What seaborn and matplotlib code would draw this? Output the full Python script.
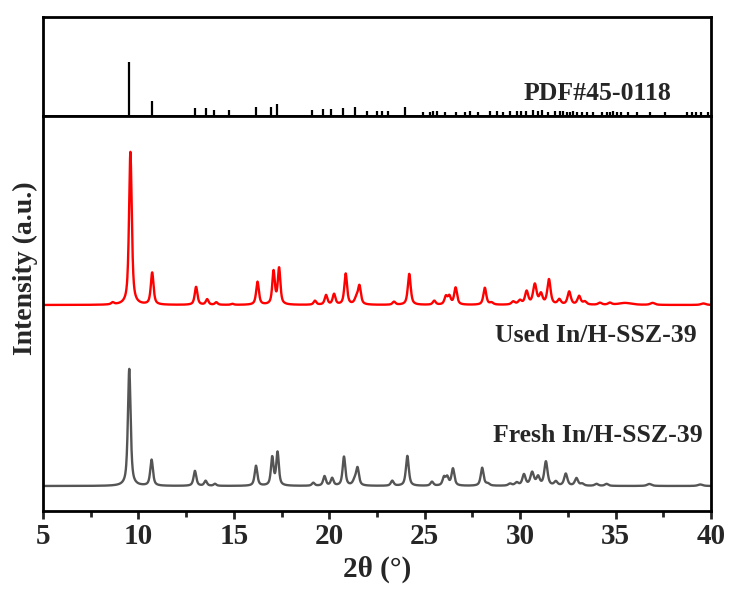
import numpy as np
import pandas as pd
import matplotlib
matplotlib.use("Agg")
import matplotlib.pyplot as plt
import seaborn as sns
from matplotlib.ticker import MultipleLocator

# ---------------- data ----------------
# Reference pattern PDF#45-0118: 2theta (deg) and relative intensity (%)
pdf_pos = [9.52, 10.69, 12.96, 13.52, 13.96, 14.76, 16.14, 16.92, 17.24, 19.11,
           19.65, 20.09, 20.70, 21.36, 22.00, 22.48, 22.74, 23.09, 23.96, 24.89,
           25.27, 25.44, 25.62, 26.06, 26.63, 27.10, 27.37, 27.79, 28.41, 28.77,
           29.11, 29.46, 29.81, 30.07, 30.33, 30.68, 30.94, 31.12, 31.48, 31.82,
           32.08, 32.26, 32.43, 32.61, 32.78, 32.96, 33.22, 33.48, 33.83, 34.27,
           34.53, 34.71, 34.88, 35.05, 35.31, 35.66, 36.10, 36.80, 37.58, 38.72,
           38.98, 39.24, 39.50, 39.85]
pdf_int = [100, 28, 15, 15, 11, 11, 17, 17, 22, 11,
           13, 13, 15, 17, 9, 9, 9, 9, 17, 7,
           7, 9, 9, 7, 7, 7, 9, 7, 9, 9,
           7, 9, 9, 9, 9, 11, 9, 11, 7, 9,
           9, 9, 7, 7, 9, 7, 7, 7, 7, 7,
           7, 7, 9, 7, 7, 7, 7, 7, 7, 7,
           7, 7, 7, 7]

# Used In/H-SSZ-39: peak positions (deg), heights (a.u.), widths (deg FWHM)
used_pos = [8.65, 9.58, 10.72, 13.02, 13.60, 14.08, 14.92, 16.24, 17.08, 17.37,
            19.25, 19.83, 20.25, 20.86, 21.42, 21.58, 23.39, 24.19, 25.50, 26.11,
            26.29, 26.62, 28.15, 28.50, 29.64, 29.99, 30.34, 30.77, 31.09, 31.51,
            32.05, 32.57, 33.09, 33.39, 34.18, 34.70, 35.50, 36.94, 39.60]
used_h = [2, 153, 32, 18, 5.5, 2.5, 1, 23, 33, 36,
          4, 9.5, 10.5, 31, 6, 18, 3, 31, 4, 8,
          8, 17, 17, 2, 3, 4, 13, 20, 10, 25,
          5, 13, 8.5, 3, 2, 2, 2, 2, 1.5]
used_w = [0.18, 0.17, 0.17, 0.17, 0.17, 0.17, 0.17, 0.17, 0.16, 0.16,
          0.17, 0.17, 0.17, 0.17, 0.22, 0.18, 0.18, 0.18, 0.18, 0.18,
          0.18, 0.18, 0.18, 0.22, 0.22, 0.22, 0.2, 0.22, 0.2, 0.2,
          0.2, 0.2, 0.2, 0.22, 0.22, 0.22, 0.8, 0.28, 0.3]

# Fresh In/H-SSZ-39
fresh_pos = [9.52, 10.69, 12.96, 13.52, 14.01, 16.16, 17.01, 17.29, 19.16, 19.75,
             20.15, 20.77, 21.33, 21.48, 23.30, 24.09, 25.38, 26.01, 26.18, 26.48,
             28.01, 28.30, 29.47, 29.82, 30.20, 30.63, 30.94, 31.35, 31.87, 32.39,
             32.95, 33.25, 34.00, 34.53, 36.77, 39.44]
fresh_h = [117, 26, 15, 5, 2, 20, 28, 33, 3, 9.5,
           7.5, 29, 5, 17, 5, 30, 4, 8, 8, 17,
           18, 2, 2, 3, 11, 13, 8.5, 24, 4, 12,
           7.5, 2, 2, 2, 2, 1.5]
fresh_w = [0.17, 0.17, 0.17, 0.17, 0.17, 0.17, 0.16, 0.16, 0.17, 0.17,
           0.17, 0.17, 0.22, 0.18, 0.18, 0.18, 0.18, 0.18, 0.18, 0.18,
           0.18, 0.22, 0.22, 0.22, 0.2, 0.22, 0.2, 0.2, 0.2, 0.2,
           0.2, 0.22, 0.22, 0.22, 0.28, 0.3]

labels = ["PDF#45-0118", "Used In/H-SSZ-39", "Fresh In/H-SSZ-39"]
x_ticks = [5, 10, 15, 20, 25, 30, 35, 40]

# vertical offsets for stacking (layout)
used_offset = 206
fresh_offset = 25


def profile(tt, pos, h, w, eta=0.7):
    y = np.zeros_like(tt)
    for p, a, f in zip(pos, h, w):
        g = np.exp(-4 * np.log(2) * ((tt - p) / f) ** 2)
        l = 1.0 / (1.0 + 4 * ((tt - p) / f) ** 2)
        y += a * (eta * l + (1 - eta) * g)
    return y


tt = np.arange(5.0, 40.0001, 0.01)
df = pd.concat([
    pd.DataFrame({"tt": tt, "I": profile(tt, used_pos, used_h, used_w) + used_offset,
                  "sample": labels[1]}),
    pd.DataFrame({"tt": tt, "I": profile(tt, fresh_pos, fresh_h, fresh_w) + fresh_offset,
                  "sample": labels[2]}),
])

# ---------------- figure ----------------
sns.set_theme(style="white")
plt.rcParams["font.family"] = ["Liberation Serif", "DejaVu Serif"]
plt.rcParams["font.weight"] = "bold"
plt.rcParams["axes.linewidth"] = 2.0

fig = plt.figure(figsize=(7.29, 5.94), dpi=100)
L, R = 43 / 729, 711 / 729
ax_top = fig.add_axes([L, 1 - 116 / 594, R - L, 99 / 594])
ax = fig.add_axes([L, 1 - 511 / 594, R - L, 395 / 594])

# stick pattern
ax_top.vlines(pdf_pos, 0, pdf_int, colors="black", linewidth=1.6)
ax_top.set_xlim(5, 40)
ax_top.set_ylim(0, 183)
ax_top.set_xticks([])
ax_top.set_yticks([])
ax_top.text(37.95, 42.5, labels[0], ha="right", va="center",
            fontsize=18.5, fontweight="bold")

# measured patterns
sns.lineplot(data=df, x="tt", y="I", hue="sample",
             palette={labels[1]: "#ff0000", labels[2]: "#555555"},
             linewidth=1.7, legend=False, ax=ax, estimator=None, sort=False)
ax.set_xlim(5, 40)
ax.set_ylim(0, 395)
ax.set_yticks([])
ax.xaxis.set_major_locator(MultipleLocator(5))
ax.xaxis.set_minor_locator(MultipleLocator(2.5))
ax.set_xticks(x_ticks)
ax.set_xticklabels([str(t) for t in x_ticks])
ax.tick_params(axis="x", which="major", direction="out", length=6, width=2,
               labelsize=21, pad=3, bottom=True)
ax.tick_params(axis="x", which="minor", direction="out", length=4, width=2,
               bottom=True)
for lab in ax.get_xticklabels():
    lab.set_fontweight("bold")
ax.set_xlabel("2θ (°)", fontsize=21, fontweight="bold", labelpad=4)
ax.set_ylabel("Intensity (a.u.)", fontsize=20, fontweight="bold")
ax.yaxis.set_label_coords(-0.007, 0.615)

ax.text(39.26, 176, labels[1], ha="right", va="center", fontsize=18.5,
        fontweight="bold")
ax.text(39.57, 75, labels[2], ha="right", va="center", fontsize=18.5,
        fontweight="bold")

for a in (ax, ax_top):
    for s in a.spines.values():
        s.set_color("black")
        s.set_linewidth(2.0)

fig.savefig("out.png", dpi=100)
